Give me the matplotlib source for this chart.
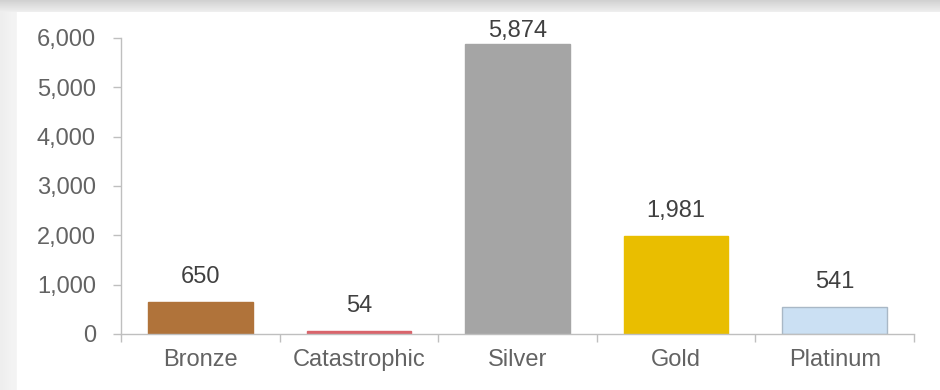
import numpy as np
import matplotlib.pyplot as plt

categories = ['Bronze', 'Catastrophic', 'Silver', 'Gold', 'Platinum']
values = [650, 54, 5874, 1981, 541]
colors = ['#B0733A', '#D9646B', '#A5A5A5', '#E9BE00', '#CBE0F3']
edges = ['#B0733A', '#D9646B', '#A5A5A5', '#E9BE00', '#A9B8C6']
yticks = [0, 1000, 2000, 3000, 4000, 5000, 6000]

plt.rcParams['font.family'] = ['Liberation Sans', 'DejaVu Sans']

fig = plt.figure(figsize=(9.4, 3.9), dpi=100)

# soft shadow behind the white panel
h, w = 390, 940
bg = np.ones((h, w))
yy = np.arange(h)[:, None]
xx = np.arange(w)[None, :]
bg[:12, :] = 1 - 0.06 - 0.12 * (12 - yy[:12]) / 12
bg[12:, :17] = 0.96 - 0.03 * (17 - xx[:, :17]) / 17
bax = fig.add_axes([0, 0, 1, 1])
bax.imshow(bg, cmap='gray', vmin=0, vmax=1, aspect='auto')
bax.axis('off')

ax = fig.add_axes([0.1287, 0.1436, 0.8436, 0.759])
ax.patch.set_alpha(0)
x = np.arange(len(categories))
ax.bar(x, values, width=0.66, color=colors, edgecolor=edges, linewidth=1)

# labels sit above the bar, but are kept inside the chart area (like Excel)
ymax = 6000
gap = 385
for xi, v in zip(x, values):
    ax.text(xi, min(v + gap, ymax + 20), f'{v:,}', ha='center', va='baseline',
            fontsize=17, color='#404040', clip_on=False)

ax.set_xlim(-0.5, len(categories) - 0.5)
ax.set_ylim(0, ymax)
ax.set_yticks(yticks)
ax.set_yticklabels([f'{t:,}' for t in yticks], fontsize=17, color='#636363')
ax.set_xticks(x)
ax.set_xticklabels(categories, fontsize=17, color='#636363')
ax.tick_params(axis='x', length=0, pad=11)
ax.set_xticks(np.arange(-0.5, len(categories)), minor=True)
ax.tick_params(axis='x', which='minor', length=6, color='#BFBFBF', width=1)
ax.tick_params(axis='y', length=6, color='#BFBFBF', width=1, pad=12)

for s in ['top', 'right']:
    ax.spines[s].set_visible(False)
for s in ['left', 'bottom']:
    ax.spines[s].set_color('#BFBFBF')
    ax.spines[s].set_linewidth(1)

plt.savefig('out.png', dpi=100)
